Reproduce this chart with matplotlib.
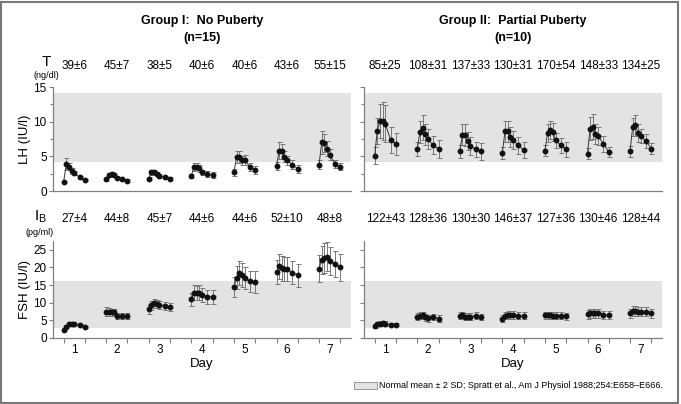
import numpy as np
import matplotlib
matplotlib.use("Agg")
import matplotlib.pyplot as plt
from matplotlib.patches import Rectangle

plt.rcParams['font.family'] = ['Liberation Sans', 'DejaVu Sans']

# sampling times within each day (min)
minutes = [0, 15, 30, 45, 60, 90, 120]
days = [1, 2, 3, 4, 5, 6, 7]

# Group I (no puberty)
lh1 = [[1.3, 3.9, 3.5, 2.9, 2.55, 2.0, 1.6],
       [1.7, 2.3, 2.45, 2.3, 1.9, 1.7, 1.5],
       [1.8, 2.7, 2.7, 2.4, 2.2, 2.0, 1.8],
       [2.2, 3.5, 3.5, 3.3, 2.7, 2.45, 2.3],
       [2.7, 4.9, 4.9, 4.4, 4.5, 3.5, 3.0],
       [3.65, 5.8, 5.7, 4.95, 4.4, 3.8, 3.2],
       [3.8, 7.0, 6.9, 6.1, 5.2, 3.9, 3.5]]
lh1_se = [[0.15, 0.9, 0.5, 0.4, 0.3, 0.2, 0.2],
          [0.2, 0.3, 0.3, 0.3, 0.2, 0.2, 0.2],
          [0.2, 0.4, 0.4, 0.3, 0.3, 0.2, 0.2],
          [0.3, 0.6, 0.5, 0.5, 0.4, 0.4, 0.4],
          [0.5, 0.9, 0.8, 0.7, 0.7, 0.6, 0.6],
          [0.6, 1.2, 1.1, 0.8, 0.7, 0.6, 0.6],
          [0.6, 1.7, 1.3, 1.1, 0.8, 0.6, 0.5]]
fsh1 = [[2.4, 3.2, 4.0, 3.9, 3.9, 3.6, 3.1],
        [7.5, 7.3, 7.3, 7.3, 6.3, 6.3, 6.25],
        [8.1, 9.3, 9.85, 9.6, 9.4, 9.1, 8.8],
        [11.0, 12.9, 12.8, 12.9, 12.3, 11.7, 11.7],
        [14.4, 17.1, 18.4, 17.9, 17.0, 16.1, 15.9],
        [18.7, 20.3, 19.8, 19.7, 19.5, 18.5, 17.8],
        [19.7, 22.2, 22.7, 23.1, 21.9, 21.0, 20.0]]
fsh1_se = [[0.3, 0.4, 0.4, 0.4, 0.3, 0.3, 0.3],
           [1.3, 1.1, 1.0, 1.0, 0.9, 0.9, 0.9],
           [1.2, 1.3, 1.3, 1.2, 1.2, 1.2, 1.2],
           [1.8, 2.0, 2.0, 2.2, 2.0, 2.0, 2.0],
           [2.8, 3.2, 3.5, 3.3, 3.2, 3.0, 3.0],
           [3.5, 3.6, 3.5, 3.4, 3.4, 3.3, 3.3],
           [3.8, 4.0, 4.2, 4.2, 4.0, 3.8, 3.8]]
t1 = ['39±6', '45±7', '38±5', '40±6', '40±6', '43±6', '55±15']
ib1 = ['27±4', '44±8', '45±7', '44±6', '44±6', '52±10', '48±8']

# Group II (partial puberty)
lh2 = [[5.1, 8.7, 10.1, 10.1, 9.7, 7.4, 6.8],
       [6.0, 8.5, 9.1, 8.2, 7.5, 6.6, 6.1],
       [5.7, 8.1, 8.1, 7.2, 6.5, 6.0, 5.7],
       [5.5, 8.6, 8.6, 7.8, 7.4, 6.6, 5.9],
       [5.8, 8.4, 8.8, 8.5, 7.3, 6.6, 6.0],
       [5.4, 9.0, 9.3, 8.2, 7.9, 6.8, 5.6],
       [5.7, 9.3, 9.5, 8.4, 7.9, 7.2, 6.1]]
lh2_se = [[1.2, 1.9, 2.4, 2.7, 2.7, 1.9, 1.6],
          [1.0, 1.6, 1.8, 1.5, 1.4, 1.3, 1.3],
          [1.0, 1.5, 1.6, 1.3, 1.3, 1.1, 1.2],
          [0.9, 1.5, 1.5, 1.4, 1.3, 1.2, 1.2],
          [0.8, 1.3, 1.3, 1.3, 1.1, 1.1, 1.1],
          [0.8, 1.7, 1.8, 1.4, 1.3, 1.2, 0.7],
          [0.8, 1.3, 1.5, 1.3, 1.0, 1.0, 0.8]]
fsh2 = [[3.4, 3.9, 4.1, 4.2, 4.1, 3.8, 3.8],
        [6.0, 6.25, 6.45, 5.9, 5.6, 5.9, 5.5],
        [6.25, 6.45, 6.05, 6.05, 6.0, 6.35, 6.0],
        [5.5, 6.35, 6.45, 6.45, 6.45, 6.25, 6.25],
        [6.45, 6.45, 6.45, 6.25, 6.35, 6.25, 6.15],
        [6.7, 7.0, 7.0, 7.0, 7.0, 6.6, 6.45],
        [7.0, 7.6, 7.6, 7.5, 7.5, 7.5, 7.0]]
fsh2_se = [[0.5, 0.6, 0.6, 0.6, 0.6, 0.5, 0.5],
           [1.0, 1.0, 1.0, 1.0, 1.0, 0.9, 0.9],
           [1.0, 1.0, 1.0, 1.0, 1.0, 1.0, 0.9],
           [1.0, 1.1, 1.1, 1.1, 1.1, 1.0, 1.0],
           [1.0, 1.0, 1.0, 1.0, 1.0, 1.0, 1.0],
           [1.2, 1.3, 1.3, 1.3, 1.3, 1.2, 1.2],
           [1.3, 1.4, 1.4, 1.4, 1.4, 1.3, 1.3]]
t2 = ['85±25', '108±31', '137±33', '130±31', '170±54', '148±33', '134±25']
ib2 = ['122±43', '128±36', '130±30', '146±37', '127±36', '130±46', '128±44']

# normal ranges (mean ± 2 SD)
lh_norm = (4.2, 14.1)
fsh_norm = (2.8, 16.2)

W, H = 681, 404
fig = plt.figure(figsize=(W / 100, H / 100), dpi=100)

def fx(px):
    return px / W

def fy(py):
    return 1 - py / H

spine_col = '#808080'
band_col = '#e3e3e3'

def draw_panel(ax, means, ses, norm, ylim, yt, bottom, ylabel):
    ax.set_xlim(0.5, 7.5)
    ax.set_ylim(*ylim)
    ax.axhspan(norm[0], norm[1], color=band_col, lw=0, zorder=0)
    for d, m, s in zip(days, means, ses):
        x = [d - 0.25 + t / 240 for t in minutes]
        ax.errorbar(x, m, yerr=s, fmt='none', ecolor='#777777', elinewidth=0.7,
                    capsize=1.8, capthick=0.7, zorder=2)
        ax.plot(x, m, '-', color='#333333', lw=0.7, zorder=3)
        ax.plot(x, m, 'o', color='#111111', ms=3.2, zorder=4)
    for sp in ['top', 'right']:
        ax.spines[sp].set_visible(False)
    for sp in ['left', 'bottom']:
        ax.spines[sp].set_color(spine_col)
        ax.spines[sp].set_linewidth(0.9)
    ax.set_yticks(yt)
    ax.tick_params(axis='y', direction='out', length=3, width=0.8, color=spine_col,
                   labelsize=8.5, pad=1.5)
    if bottom:
        ax.set_xticks(days)
        ax.set_xticks([d + o for d in days for o in (-0.25, 0.25)], minor=True)
        ax.tick_params(axis='x', which='major', length=0, labelsize=8.5, pad=4)
        ax.tick_params(axis='x', which='minor', direction='out', length=3.5,
                       width=0.8, color=spine_col)
        ax.set_xlabel('Day', fontsize=9.5, labelpad=2)
    else:
        ax.set_xticks([])
    if ylabel:
        ax.set_ylabel(ylabel, fontsize=9.5, labelpad=2)
    else:
        ax.set_yticklabels([])

lefts = [53, 364]
wid = 298
top_y = (87, 191)
bot_y = (240.7, 338)
groups = [(lh1, lh1_se, fsh1, fsh1_se, t1, ib1, 'Group I:  No Puberty', '(n=15)'),
          (lh2, lh2_se, fsh2, fsh2_se, t2, ib2, 'Group II:  Partial Puberty', '(n=10)')]

for i, (lh, lhs, fsh, fshs, tl, ibl, title, ntxt) in enumerate(groups):
    l = lefts[i]
    ax1 = fig.add_axes([fx(l), fy(top_y[1]), fx(wid), (top_y[1] - top_y[0]) / H])
    draw_panel(ax1, lh, lhs, lh_norm, (0, 15), [0, 5, 10, 15], False,
               'LH (IU/l)' if i == 0 else None)
    ax1.set_yticks([2.5, 7.5, 12.5], minor=True)
    ax1.tick_params(axis='y', which='minor', direction='out', length=2.5,
                    width=0.8, color=spine_col)
    ax2 = fig.add_axes([fx(l), fy(bot_y[1]), fx(wid), (bot_y[1] - bot_y[0]) / H])
    draw_panel(ax2, fsh, fshs, fsh_norm, (0, 27.6), [0, 5, 10, 15, 20, 25], True,
               'FSH (IU/l)' if i == 0 else None)

    cx = l + wid / 2
    fig.text(fx(cx), fy(21), title, ha='center', va='center', fontsize=9,
             fontweight='bold')
    fig.text(fx(cx), fy(38), ntxt, ha='center', va='center', fontsize=9,
             fontweight='bold')
    for d, a, b in zip(days, tl, ibl):
        xc = l + wid * (d - 0.5) / 7
        fig.text(fx(xc), fy(66), a, ha='center', va='center', fontsize=8.5)
        fig.text(fx(xc), fy(219), b, ha='center', va='center', fontsize=8.5)

# hormone row headers
fig.text(fx(46), fy(62), 'T', ha='center', va='center', fontsize=11)
fig.text(fx(46), fy(75), '(ng/dl)', ha='center', va='center', fontsize=6.5)
fig.text(fx(40), fy(217), r'I$_\mathregular{B}$', ha='center', va='center', fontsize=11)
fig.text(fx(40), fy(233), '(pg/ml)', ha='center', va='center', fontsize=6.5)

# legend
fig.patches.append(Rectangle((fx(354), fy(389)), fx(23), 7 / H, transform=fig.transFigure,
                             facecolor=band_col, edgecolor='#888888', lw=0.6))
fig.text(fx(379), fy(385), 'Normal mean ± 2 SD; Spratt et al., Am J Physiol 1988;254:E658\u2013E666.',
         ha='left', va='center', fontsize=6.5)

# outer frame
fig.patches.append(Rectangle((0.002, 0.003), 0.994, 0.993, transform=fig.transFigure,
                             facecolor='none', edgecolor='#777777', lw=1.5))

fig.savefig('out.png', dpi=100)
